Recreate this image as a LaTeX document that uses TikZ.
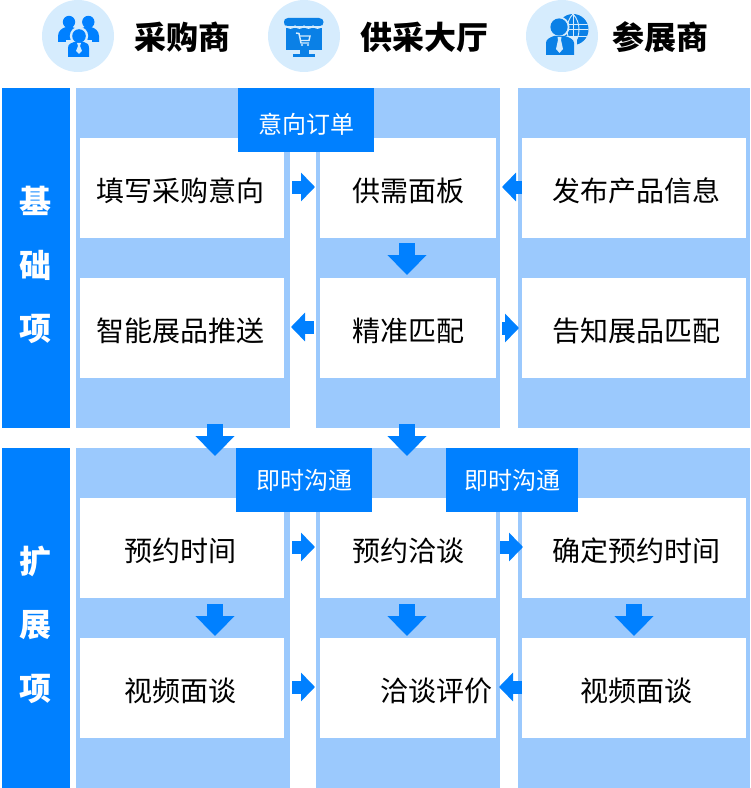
\documentclass[tikz,border=0pt]{standalone}
\usepackage{fontspec}
\setmainfont{Noto Sans CJK SC}
\usetikzlibrary{arrows.meta}
\definecolor{mainblue}{HTML}{0080FF}
\definecolor{lightblue}{HTML}{9BC9FD}
\definecolor{iconbg}{HTML}{D6ECFD}
\definecolor{iconblue}{HTML}{0A80E6}
\def\px{0.75pt}
\newcommand{\lefttext}[1]{\hspace*{-3pt}#1}
\newcommand{\righttext}[1]{\hspace*{3pt}#1}
\tikzset{
  x=0.75pt,y=-0.75pt,
  sized/.style 2 args={rectangle,inner sep=0pt,outer sep=0pt,minimum width=#1*\px,minimum height=#2*\px,text depth=0pt},
  panel/.style 2 args={sized={#1}{#2},fill=lightblue},
  sidebar/.style={sized={68}{340},fill=mainblue},
  sidetext/.style={inner sep=0pt,text=white,font=\fontsize{24pt}{24pt}\selectfont\bfseries},
  cell/.style 2 args={sized={#1}{#2},fill=white,font=\fontsize{21pt}{24pt}\selectfont,text=black,text height=20.5pt},
  tag/.style 2 args={sized={#1}{#2},fill=mainblue,text=white,font=\fontsize{18pt}{20pt}\selectfont,text height=14.5pt},
  title/.style={inner sep=0pt,anchor=west,font=\fontsize{24pt}{26pt}\selectfont\bfseries,text=black},
  badge/.style={circle,inner sep=0pt,minimum size=72*\px,fill=iconbg},
  harrow/.style={draw=mainblue,line width=13*\px,-{Triangle[length=10.5pt,width=21pt,fill=mainblue]}},
  varrow/.style={draw=mainblue,line width=16*\px,-{Triangle[length=15pt,width=28.5pt,fill=mainblue]}},
}
\begin{document}
\begin{tikzpicture}
\useasboundingbox (0,0) rectangle (750,788);
% header
\node[badge] (b1) at (78,36) {};
\node[badge] (b2) at (304,36) {};
\node[badge] (b3) at (562,36) {};
\node[title] (t1) at (134,37) {采购商};
\node[title] (t2) at (360,37) {供采大厅};
\node[title] (t3) at (612,37) {参展商};
% icon 1
\begin{scope}
\fill[mainblue] (69,22) circle (6.2);
\fill[mainblue] (88.3,22) circle (6.2);
\fill[mainblue] (58,42) -- (58,36) .. controls (58,31) and (62,28) .. (66,27) -- (72,27) .. controls (76,28) and (79,30) .. (80,33) -- (80,42) -- cycle;
\fill[mainblue] (99,42) -- (99,36) .. controls (99,31) and (95,28) .. (91,27) -- (85,27) .. controls (81,28) and (78,30) .. (77,33) -- (77,42) -- cycle;
\fill[iconbg] (79,36) circle (9.2);
\fill[iconbg] (66,40) rectangle (92,44);
\fill[mainblue] (79,36) circle (6.8);
\fill[mainblue] (68,57) -- (68,48) .. controls (68,44) and (71,43) .. (74,42) -- (84,42) .. controls (87,43) and (89,44) .. (89,48) -- (89,57) -- cycle;
\fill[iconbg] (77,43) -- (81,43) -- (80,46) -- (82,51) -- (79,54) -- (76,51) -- (78,46) -- cycle;
\end{scope}
% icon 2
\begin{scope}
\fill[iconblue] (288,18) -- (319,18) .. controls (322,18) and (323.5,20) .. (323.5,22) .. controls (323.5,25) and (322,26) .. (320,26) -- (287,26) .. controls (285,26) and (284,25) .. (284,22) .. controls (284,20) and (285,18) .. (288,18) -- cycle;
\fill[iconblue] (286,28) rectangle (322,50);
\draw[iconbg,line width=0.9pt] (286,26) .. controls (289,29) and (292,29) .. (295,26) .. controls (298,29) and (301,29) .. (304,26) .. controls (307,29) and (310,29) .. (313,26) .. controls (316,29) and (319,29) .. (322,26);
\fill[iconblue] (300,50) rectangle (309,54);
\fill[iconblue] (293,54) rectangle (315,57);
\draw[iconbg,line width=1.1pt] (296,33) -- (299,33.5) -- (301,43) -- (309,43);
\draw[iconbg,line width=1.1pt] (299.5,36) -- (310,36) -- (309,40.5) -- (300.5,40.5);
\fill[iconbg] (302,45) circle (1.2);
\fill[iconbg] (308,45) circle (1.2);
\end{scope}
% icon 3
\begin{scope}
\fill[iconblue] (573,29.5) circle (15.5);
\begin{scope}
\clip (573,29.5) circle (15.5);
\draw[iconbg,line width=0.7pt] (573,14) -- (573,45);
\draw[iconbg,line width=0.7pt] (573,14) .. controls (565,22) and (565,37) .. (573,45);
\draw[iconbg,line width=0.7pt] (573,14) .. controls (581,22) and (581,37) .. (573,45);
\draw[iconbg,line width=0.7pt] (556,24) -- (590,24);
\draw[iconbg,line width=0.7pt] (556,29.5) -- (590,29.5);
\draw[iconbg,line width=0.7pt] (556,36) -- (590,36);
\end{scope}
\fill[iconbg] (559,27) circle (10.5);
\fill[iconbg] (544,36) rectangle (577,56);
\fill[iconblue] (559,27) circle (8.6);
\fill[iconblue] (546,55) -- (546,43) .. controls (546,39) and (550,37.5) .. (554,36) -- (565,36) .. controls (569,37.5) and (574,39) .. (574,43) -- (574,55) -- cycle;
\fill[iconbg] (557.5,37) -- (561.5,37) -- (561,40) -- (563,49) -- (559.5,53) -- (556,49) -- (558,40) -- cycle;
\end{scope}
% section 1
\node[sidebar] (s1) at (36,258) {};
\node[sidetext] (s1a) at (35,201) {基};
\node[sidetext] (s1b) at (35,265) {础};
\node[sidetext] (s1c) at (35,329) {项};
\node[panel={214}{340}] (p1) at (183,258) {};
\node[panel={184}{340}] (p2) at (408,258) {};
\node[panel={232}{340}] (p3) at (634,258) {};
\node[cell={204}{100}] (a1) at (182,188) {\lefttext{填写采购意向}};
\node[cell={176}{100}] (a2) at (408,188) {供需面板};
\node[cell={224}{100}] (a3) at (634,188) {\righttext{发布产品信息}};
\node[cell={204}{100}] (a4) at (182,328) {\lefttext{智能展品推送}};
\node[cell={176}{100}] (a5) at (408,328) {精准匹配};
\node[cell={224}{100}] (a6) at (634,328) {\righttext{告知展品匹配}};
\node[tag={136}{64}] (g1) at (306,120) {\raisebox{-3pt}{意向订单}};
% section 2
\node[sidebar] (s2) at (36,618) {};
\node[sidetext] (s2a) at (35,561) {扩};
\node[sidetext] (s2b) at (35,625) {展};
\node[sidetext] (s2c) at (35,689) {项};
\node[panel={214}{340}] (q1) at (183,618) {};
\node[panel={184}{340}] (q2) at (408,618) {};
\node[panel={232}{340}] (q3) at (634,618) {};
\node[cell={204}{100}] (c1) at (182,548) {\lefttext{预约时间}};
\node[cell={176}{100}] (c2) at (408,548) {预约洽谈};
\node[cell={224}{100}] (c3) at (634,548) {\righttext{确定预约时间}};
\node[cell={204}{100}] (c4) at (182,688) {\lefttext{视频面谈}};
\node[cell={176}{100}] (c5) at (408,688) {\hspace*{43pt}洽谈评价};
\node[cell={224}{100}] (c6) at (634,688) {\righttext{视频面谈}};
\node[tag={136}{64}] (g2) at (304,480) {即时沟通};
\node[tag={132}{64}] (g3) at (512,480) {即时沟通};
% connectors
\tikzset{up1/.style={yshift=0.75pt}}
\draw[harrow,shorten <=8*\px,shorten >=5*\px] ([up1]a1.east) -- ([up1]a2.west);
\draw[harrow,shorten <=0pt,shorten >=6*\px] ([up1]a3.west) -- ([up1]a2.east);
\draw[harrow,shorten <=6*\px,shorten >=7*\px] ([up1]a5.west) -- ([up1]a4.east);
\draw[harrow,shorten <=6*\px,shorten >=3*\px] (a5.east) -- (a6.west);
\draw[harrow,shorten <=8*\px,shorten >=5*\px] ([up1]c1.east) -- ([up1]c2.west);
\draw[harrow,shorten <=4*\px,shorten >=-1*\px] ([up1]c2.east) -- ([up1]c3.west);
\draw[harrow,shorten <=8*\px,shorten >=5*\px] ([up1]c4.east) -- ([up1]c5.west);
\draw[harrow,shorten <=0*\px,shorten >=3*\px] ([up1]c6.west) -- ([up1]c5.east);
\tikzset{left1/.style={xshift=-0.75pt}}
\draw[varrow,shorten <=5*\px,shorten >=3*\px] ([left1]a2.south) -- ([left1]a5.north);
\draw[varrow,shorten <=-4*\px,shorten >=-8*\px] ([xshift=24pt]p1.south) -- ([xshift=24pt]q1.north);
\draw[varrow,shorten <=-4*\px,shorten >=-8*\px] ([left1]p2.south) -- ([left1]q2.north);
\draw[varrow,shorten <=6*\px,shorten >=2*\px] ([xshift=24.75pt]c1.south) -- ([xshift=24.75pt]c4.north);
\draw[varrow,shorten <=6*\px,shorten >=2*\px] ([left1]c2.south) -- ([left1]c5.north);
\draw[varrow,shorten <=6*\px,shorten >=2*\px] (c3.south) -- (c6.north);
\end{tikzpicture}
\end{document}
